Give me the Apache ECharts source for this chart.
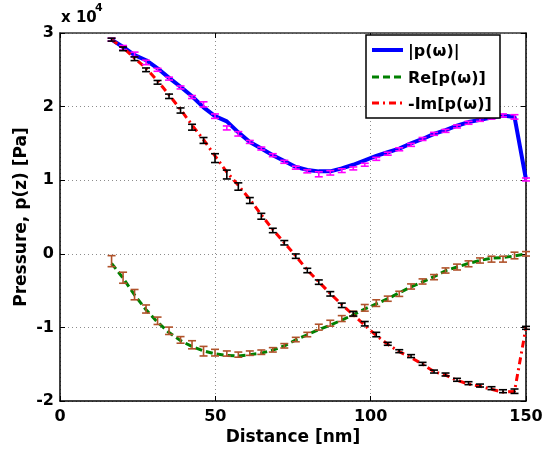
<!DOCTYPE html>
<html>
<head>
<meta charset="utf-8">
<script src="https://cdn.jsdelivr.net/npm/echarts@6/dist/echarts.min.js"></script>
<style>
html,body{margin:0;padding:0;background:#fff;}
#chart{width:547px;height:454px;}
</style>
</head>
<body>
<div id="chart"></div>
<script>
// Distance [nm] sample positions
const distance = [16.6,20.3,24.0,27.7,31.4,35.1,38.8,42.5,46.2,49.9,53.7,57.4,61.1,64.8,68.5,72.2,75.9,79.6,83.3,87.0,90.7,94.4,98.1,101.8,105.5,109.2,113.0,116.7,120.4,124.1,127.8,131.5,135.2,138.9,142.6,146.3,150.0];

// Values in units of 1e4 Pa
const absLine = [2.91,2.81,2.70,2.63,2.52,2.39,2.27,2.14,1.99,1.87,1.80,1.65,1.52,1.43,1.34,1.26,1.18,1.14,1.12,1.12,1.16,1.21,1.27,1.33,1.38,1.43,1.50,1.56,1.63,1.68,1.74,1.79,1.82,1.85,1.88,1.86,1.01];
const reLine  = [-0.13,-0.33,-0.56,-0.76,-0.93,-1.07,-1.18,-1.26,-1.32,-1.36,-1.38,-1.39,-1.37,-1.35,-1.31,-1.25,-1.17,-1.10,-1.03,-0.97,-0.90,-0.83,-0.75,-0.68,-0.61,-0.53,-0.45,-0.38,-0.31,-0.23,-0.18,-0.13,-0.09,-0.06,-0.05,-0.03,0.0];
const imLine  = [2.91,2.80,2.66,2.52,2.35,2.16,1.96,1.75,1.55,1.33,1.11,0.93,0.74,0.53,0.33,0.15,-0.03,-0.22,-0.38,-0.54,-0.69,-0.83,-0.97,-1.11,-1.23,-1.33,-1.41,-1.50,-1.60,-1.65,-1.72,-1.77,-1.80,-1.84,-1.88,-1.87,-1.00];

// Error-bar centres and half-widths (units of 1e4 Pa)
const absBar = [2.91,2.80,2.71,2.60,2.50,2.38,2.26,2.13,2.03,1.87,1.71,1.63,1.52,1.43,1.34,1.25,1.17,1.12,1.08,1.10,1.13,1.16,1.21,1.29,1.36,1.42,1.48,1.56,1.63,1.67,1.73,1.78,1.82,1.85,1.88,1.86,1.01];
const absErr = [0.02,0.03,0.03,0.03,0.02,0.02,0.02,0.02,0.035,0.03,0.027,0.03,0.02,0.02,0.02,0.02,0.02,0.02,0.034,0.03,0.025,0.02,0.02,0.02,0.02,0.02,0.02,0.02,0.02,0.02,0.02,0.02,0.02,0.02,0.02,0.03,0.02];
const reBar  = [-0.10,-0.325,-0.555,-0.75,-0.91,-1.046,-1.17,-1.236,-1.323,-1.343,-1.355,-1.37,-1.35,-1.337,-1.305,-1.25,-1.165,-1.097,-0.997,-0.943,-0.88,-0.815,-0.734,-0.67,-0.61,-0.544,-0.444,-0.376,-0.317,-0.227,-0.18,-0.136,-0.091,-0.073,-0.073,-0.023,0.0];
const reErr  = [0.075,0.075,0.07,0.055,0.05,0.05,0.045,0.055,0.065,0.045,0.035,0.035,0.03,0.03,0.03,0.03,0.03,0.03,0.04,0.04,0.04,0.035,0.045,0.045,0.035,0.035,0.035,0.035,0.035,0.035,0.04,0.04,0.035,0.04,0.04,0.045,0.03];
const imBar  = [2.91,2.785,2.65,2.50,2.33,2.14,1.947,1.72,1.54,1.30,1.077,0.914,0.724,0.51,0.317,0.15,-0.032,-0.227,-0.385,-0.544,-0.70,-0.815,-0.95,-1.097,-1.223,-1.323,-1.39,-1.495,-1.60,-1.64,-1.712,-1.758,-1.79,-1.826,-1.867,-1.867,-1.006];
const imErr  = [0.02,0.025,0.025,0.025,0.025,0.03,0.035,0.04,0.04,0.06,0.06,0.05,0.04,0.04,0.03,0.03,0.03,0.03,0.03,0.03,0.03,0.03,0.03,0.03,0.02,0.02,0.02,0.02,0.02,0.02,0.02,0.02,0.02,0.02,0.02,0.03,0.02];

// Axis ticks
const xTicks = [0,50,100,150];
const yTicks = [-2,-1,0,1,2,3];
const seriesNames = ['|p(ω)|','Re[p(ω)]','-Im[p(ω)]'];

const FONT = 'DejaVu Sans';
const COLORS = {abs:'#0000ff', re:'#008000', im:'#ff0000'};
const DASH = {abs:'solid', re:[7,4], im:[7,4,2,4]};

function pairs(ys){ return distance.map((x,i)=>[x, ys[i]]); }
function bars(c,e){ return distance.map((x,i)=>[x, c[i]-e[i], c[i]+e[i]]); }

function errRender(color){
  return function(params, api){
    const x = api.value(0);
    const p1 = api.coord([x, api.value(1)]);
    const p2 = api.coord([x, api.value(2)]);
    const w = 4;
    const st = {stroke: color, lineWidth: 1.6};
    return {type:'group', children:[
      {type:'line', shape:{x1:p1[0],y1:p1[1],x2:p2[0],y2:p2[1]}, style:st},
      {type:'line', shape:{x1:p1[0]-w,y1:p1[1],x2:p1[0]+w,y2:p1[1]}, style:st},
      {type:'line', shape:{x1:p2[0]-w,y1:p2[1],x2:p2[0]+w,y2:p2[1]}, style:st}
    ]};
  };
}

// Hand-built legend (box, line samples, labels)
const legendKeys = ['abs','re','im'];
const legendRows = [50, 77, 103];
const legendGraphics = [
  {type:'rect', z:100, shape:{x:366, y:35, width:134, height:83}, style:{fill:'#fff', stroke:'#000', lineWidth:1.5}}
];
legendKeys.forEach((k,i)=>{
  legendGraphics.push({type:'line', z:101, shape:{x1:372, y1:legendRows[i], x2:403, y2:legendRows[i]},
    style:{stroke:COLORS[k], lineWidth:k==='abs'?4:3, lineDash:DASH[k]==='solid'?null:DASH[k]}});
  legendGraphics.push({type:'text', z:101, x:408, y:legendRows[i]+2,
    style:{text:seriesNames[i], fontFamily:FONT, fontWeight:'bold', fontSize:16, fill:'#000', verticalAlign:'middle', align:'left'}});
});

const chart = echarts.init(document.getElementById('chart'), null, {renderer:'canvas'});

const gridLine = {show:true, lineStyle:{color:'#8c8c8c', type:[1,3], width:1}};

chart.setOption({
  animation:false,
  backgroundColor:'#fff',
  grid:{left:60, right:21, top:33, bottom:53, containLabel:false},
  xAxis:[{
    type:'value', min:xTicks[0], max:xTicks[xTicks.length-1], interval:50,
    axisLine:{show:true, onZero:false, lineStyle:{color:'#000', width:1.5}},
    axisTick:{show:true, inside:true, length:5, lineStyle:{color:'#000'}},
    axisLabel:{fontFamily:FONT, fontWeight:'bold', fontSize:16, color:'#000', margin:8},
    splitLine:gridLine
  },{
    type:'value', position:'top', min:xTicks[0], max:xTicks[xTicks.length-1], interval:50,
    axisLine:{show:true, onZero:false, lineStyle:{color:'#333', width:1.5}},
    axisTick:{show:true, inside:true, length:5, lineStyle:{color:'#000'}},
    axisLabel:{show:false}, splitLine:{show:false}
  }],
  yAxis:[{
    type:'value', min:yTicks[0], max:yTicks[yTicks.length-1], interval:1,
    axisLine:{show:true, onZero:false, lineStyle:{color:'#000', width:1.5}},
    axisTick:{show:true, inside:true, length:5, lineStyle:{color:'#000'}},
    axisLabel:{fontFamily:FONT, fontWeight:'bold', fontSize:16, color:'#000', margin:6},
    splitLine:gridLine
  },{
    type:'value', position:'right', min:yTicks[0], max:yTicks[yTicks.length-1], interval:1,
    axisLine:{show:true, onZero:false, lineStyle:{color:'#000', width:1.5}},
    axisTick:{show:true, inside:true, length:5, lineStyle:{color:'#000'}},
    axisLabel:{show:false}, splitLine:{show:false}
  }],
  graphic:[
    {type:'text', left:61, top:11, style:{text:'x 10', fontFamily:FONT, fontWeight:'bold', fontSize:15, fill:'#000'}},
    {type:'text', left:95, top:3, style:{text:'4', fontFamily:FONT, fontWeight:'bold', fontSize:11, fill:'#000'}},
    {type:'text', x:293, y:438, style:{text:'Distance [nm]', fontFamily:FONT, fontWeight:'bold', fontSize:17, fill:'#000', align:'center', verticalAlign:'middle'}},
    {type:'text', x:22, y:217, rotation:Math.PI/2, style:{text:'Pressure, p(z) [Pa]', fontFamily:FONT, fontWeight:'bold', fontSize:17, fill:'#000', align:'center', verticalAlign:'middle'}}
  ].concat(legendGraphics),
  series:[
    {name:seriesNames[0], type:'line', data:pairs(absLine), symbol:'none', lineStyle:{color:COLORS.abs, width:4}, z:3},
    {name:seriesNames[1], type:'line', data:pairs(reLine), symbol:'none', lineStyle:{color:COLORS.re, width:3, type:DASH.re}, z:3},
    {name:seriesNames[2], type:'line', data:pairs(imLine), symbol:'none', lineStyle:{color:COLORS.im, width:3, type:DASH.im}, z:3},
    {type:'custom', data:bars(absBar,absErr), renderItem:errRender('#ff00ff'), z:4, encode:{x:0,y:[1,2]}},
    {type:'custom', data:bars(reBar,reErr), renderItem:errRender('#b0522a'), z:4, encode:{x:0,y:[1,2]}},
    {type:'custom', data:bars(imBar,imErr), renderItem:errRender('#000000'), z:4, encode:{x:0,y:[1,2]}}
  ]
});
</script>
</body>
</html>
